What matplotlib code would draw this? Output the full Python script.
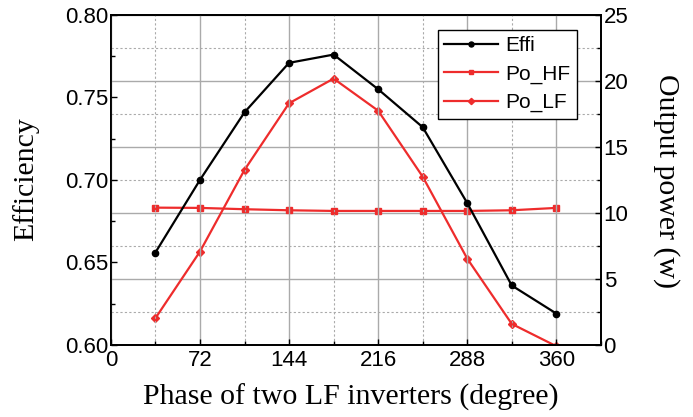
import matplotlib
matplotlib.use("Agg")
import matplotlib.pyplot as plt
from matplotlib.ticker import MultipleLocator, FixedLocator, FormatStrFormatter

# phase of the two LF inverters (degree)
phase = [36, 72, 108, 144, 180, 216, 252, 288, 324, 360]
effi = [0.656, 0.700, 0.741, 0.771, 0.776, 0.755, 0.732, 0.686, 0.636, 0.619]
po_hf = [10.4, 10.38, 10.28, 10.2, 10.15, 10.15, 10.15, 10.15, 10.2, 10.38]
po_lf = [2.02, 7.07, 13.26, 18.31, 20.18, 17.75, 12.75, 6.54, 1.59, -0.1]

x_ticks = [0, 72, 144, 216, 288, 360]
RED = "#ee2c2c"
GRID = "#aaaaaa"
SANS = "Liberation Sans"
SERIF = "Liberation Serif"

fig = plt.figure(figsize=(6.93, 4.17), dpi=100)
ax1 = fig.add_axes([0.160, 0.173, 0.707, 0.791])
ax2 = ax1.twinx()
# effi axis above the power axis so its grid stays underneath everything
ax1.set_zorder(ax2.get_zorder() + 1)
ax1.patch.set_visible(False)

ax1.plot(phase, effi, color="black", lw=1.6, marker="o", ms=4.5, label="Effi")
l_hf, = ax2.plot(phase, po_hf, color=RED, lw=1.6, marker="s", ms=4, label="Po_HF")
l_lf, = ax2.plot(phase, po_lf, color=RED, lw=1.6, marker="D", ms=4, label="Po_LF")

ax1.set_xlim(0, 396)
ax1.set_ylim(0.60, 0.80)
ax2.set_ylim(0, 25)

ax1.xaxis.set_major_locator(FixedLocator(x_ticks))
ax1.xaxis.set_minor_locator(MultipleLocator(36))
ax1.yaxis.set_major_locator(MultipleLocator(0.05))
ax1.yaxis.set_minor_locator(MultipleLocator(0.025))
ax2.yaxis.set_major_locator(MultipleLocator(5))
ax2.yaxis.set_minor_locator(MultipleLocator(2.5))
ax1.yaxis.set_major_formatter(FormatStrFormatter("%.2f"))

ax1.set_axisbelow(True)
ax2.set_axisbelow(True)
ax1.grid(True, axis="x", which="major", color=GRID, lw=1.0, ls="-")
ax1.grid(True, axis="x", which="minor", color=GRID, lw=0.8, ls=(0, (2, 2)))
ax2.grid(True, axis="y", which="major", color=GRID, lw=1.0, ls="-")
ax2.grid(True, axis="y", which="minor", color=GRID, lw=0.8, ls=(0, (2, 2)))

for ax in (ax1, ax2):
    ax.tick_params(which="both", direction="in", width=1.0, labelsize=16, pad=2)
    ax.tick_params(which="major", length=4)
    ax.tick_params(which="minor", length=3)
    for lab in ax.get_xticklabels() + ax.get_yticklabels():
        lab.set_fontfamily(SANS)
    for sp in ax.spines.values():
        sp.set_linewidth(1.3)
ax1.tick_params(axis="x", which="both", pad=4)
ax2.tick_params(axis="x", which="both", bottom=False, top=False)

ax1.set_xlabel("Phase of two LF inverters (degree)", fontfamily=SERIF, fontsize=21.5, va="center")
ax1.xaxis.set_label_coords(0.49, -0.158)
ax1.set_ylabel("Efficiency", fontfamily=SERIF, fontsize=21.5, va="center")
ax1.yaxis.set_label_coords(-0.173, 0.503)
ax2.set_ylabel("Output power (w)", fontfamily=SERIF, fontsize=21.5, rotation=270, va="center")
ax2.yaxis.set_label_coords(1.133, 0.498)

handles = ax1.get_lines()[:1] + [l_hf, l_lf]
leg = ax1.legend(handles=handles, loc="upper right", bbox_to_anchor=(0.951, 0.955),
                 borderaxespad=0, prop={"family": SANS, "size": 15}, fancybox=False,
                 framealpha=1, edgecolor="black", handlelength=2.6, handletextpad=0.35,
                 borderpad=0.3, labelspacing=0.45, markerscale=0.8)
leg.get_frame().set_linewidth(1.0)

fig.savefig("out.png", dpi=100)
